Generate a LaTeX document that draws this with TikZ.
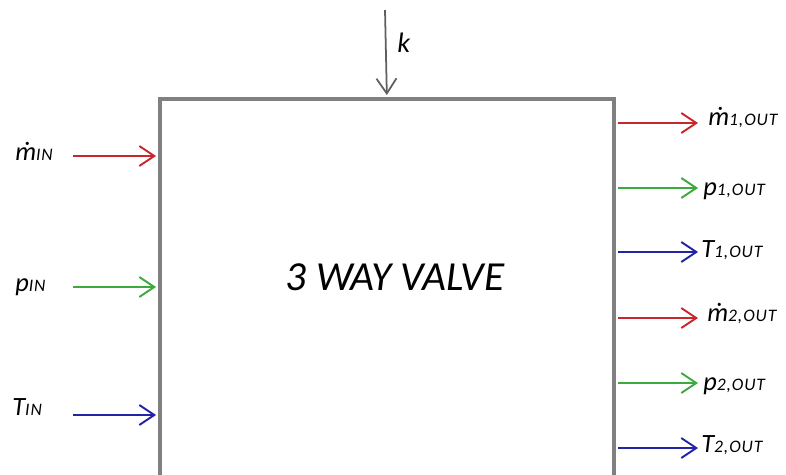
\documentclass[tikz,border=0pt]{standalone}
\usepackage{fontspec}
\setmainfont{Carlito}
\newfontfamily\subfamily[LetterSpace=5]{Carlito}
\usepackage{tikz}
\usetikzlibrary{arrows.meta}
\definecolor{flowred}{RGB}{200,40,45}
\definecolor{flowgreen}{RGB}{60,170,60}
\definecolor{flowblue}{RGB}{35,35,165}
\definecolor{valvegray}{RGB}{128,128,128}
\definecolor{controlgray}{RGB}{95,95,95}
\tikzset{
  valvebox/.style={
    draw=valvegray, line width=2.2pt, anchor=north west, inner sep=0pt,
    minimum width=9.08cm, minimum height=9cm
  },
  valvetitle/.style={
    font=\fontsize{23.5}{28}\selectfont\itshape, inner sep=0pt, anchor=base
  },
  signalarrow/.style={
    -{Straight Barb[length=0.3cm,width=0.4cm]}, line width=1.1pt
  },
  signallabel/.style={
    font=\fontsize{15}{17}\selectfont\itshape, inner sep=0pt, anchor=base west
  },
}
\newcommand{\subtag}[1]{{\subfamily\fontsize{10}{12}\selectfont\itshape #1}}

\begin{document}
\begin{tikzpicture}[x=0.02cm, y=-0.02cm]
  \useasboundingbox (0,0) rectangle (786,474);
  \clip (0,0) rectangle (786,474);

  % --- Valve block ---
  \node[valvebox] (valve) at (158,97) {};
  \node[valvetitle] (title) at (395,290) {3 WAY VALVE};

  % --- Control input ---
  \coordinate (ktop) at (385,10);
  \draw[signalarrow, controlgray, line width=1pt, shorten >=1.1pt] (ktop) -- (valve.north);
  \node[signallabel, font=\fontsize{16}{18}\selectfont\itshape]
    (klabel) at (397,52) {k};

  % --- Inputs ---
  \coordinate (mdotin) at (73,156);
  \coordinate (pin) at (73,287);
  \coordinate (tin) at (73,415);
  \draw[signalarrow, flowred, shorten >=1.1pt] (mdotin) -- (mdotin -| valve.west);
  \draw[signalarrow, flowgreen, shorten >=1.1pt] (pin) -- (pin -| valve.west);
  \draw[signalarrow, flowblue, shorten >=1.1pt] (tin) -- (tin -| valve.west);
  \node[signallabel] (mdotinlabel) at (15,160) {ṁ\subtag{IN}};
  \node[signallabel] (pinlabel) at (15,291) {p\subtag{IN}};
  \node[signallabel] (tinlabel) at (12,415) {T\subtag{IN}};

  % --- Outputs ---
  \coordinate (mdotoneout) at (698,123);
  \coordinate (poneout) at (698,188);
  \coordinate (toneout) at (698,252);
  \coordinate (mdottwoout) at (698,318);
  \coordinate (ptwoout) at (698,383);
  \coordinate (ttwoout) at (698,448);
  \draw[signalarrow, flowred, shorten <=1.1pt] (mdotoneout -| valve.east) -- (mdotoneout);
  \draw[signalarrow, flowgreen, shorten <=1.1pt] (poneout -| valve.east) -- (poneout);
  \draw[signalarrow, flowblue, shorten <=1.1pt] (toneout -| valve.east) -- (toneout);
  \draw[signalarrow, flowred, shorten <=1.1pt] (mdottwoout -| valve.east) -- (mdottwoout);
  \draw[signalarrow, flowgreen, shorten <=1.1pt] (ptwoout -| valve.east) -- (ptwoout);
  \draw[signalarrow, flowblue, shorten <=1.1pt] (ttwoout -| valve.east) -- (ttwoout);
  \node[signallabel] (mdotonelabel) at (708,125) {ṁ\subtag{1,OUT}};
  \node[signallabel] (ponelabel) at (703,195) {p\subtag{1,OUT}};
  \node[signallabel] (tonelabel) at (701,257) {T\subtag{1,OUT}};
  \node[signallabel] (mdottwolabel) at (707,321) {ṁ\subtag{2,OUT}};
  \node[signallabel] (ptwolabel) at (703,390) {p\subtag{2,OUT}};
  \node[signallabel] (ttwolabel) at (701,452) {T\subtag{2,OUT}};
\end{tikzpicture}
\end{document}
